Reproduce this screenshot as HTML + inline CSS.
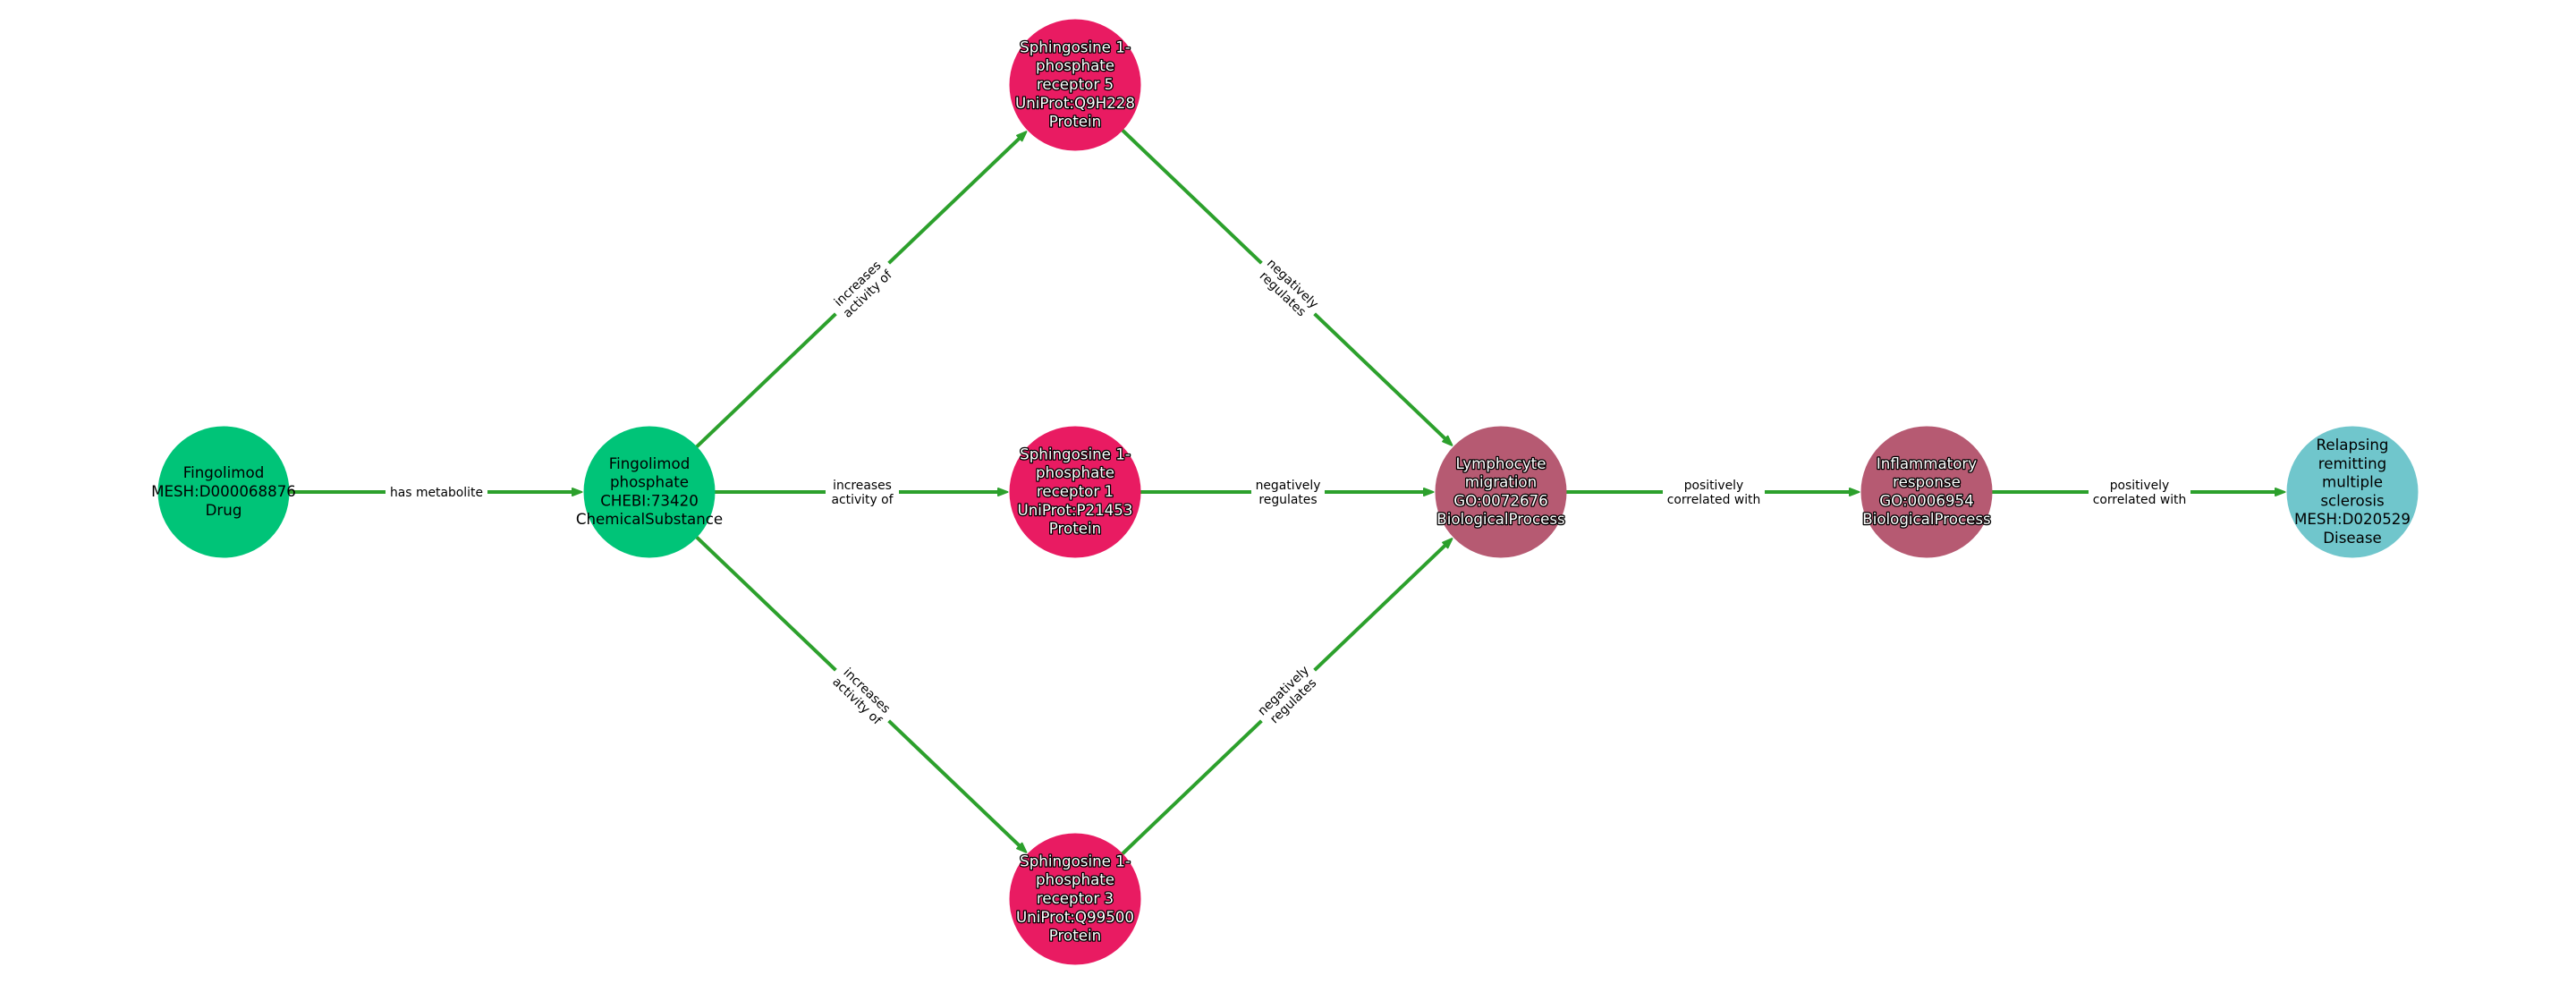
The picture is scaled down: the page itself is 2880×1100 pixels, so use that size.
<!DOCTYPE html>
<html>
<head>
<meta charset="utf-8">
<style>
html,body{margin:0;padding:0;background:#fff;width:2880px;height:1100px;overflow:hidden}
svg{display:block}
text{font-family:"DejaVu Sans",sans-serif;text-anchor:middle}
.n{font-size:16.67px;transform:translateY(-.7px)}
.d{fill:#000}
.w{fill:#fff;stroke:#000;stroke-width:2.6px;paint-order:stroke;stroke-linejoin:round}
.e{font-size:13.9px;fill:#000}
line{stroke:#2ca02c;stroke-width:4;marker-end:url(#a)}
</style>
</head>
<body>
<svg xmlns="http://www.w3.org/2000/svg" width="2880" height="1100" viewBox="0 0 2880 1100">
<defs>
<marker id="a" markerUnits="userSpaceOnUse" markerWidth="14" markerHeight="14" viewBox="0 0 14 14" refX="4" refY="7" orient="auto">
<path d="M1 3 L11.5 7 L1 11 Z" fill="#2ca02c" stroke="#2ca02c" stroke-width="2" stroke-linejoin="round"/>
</marker>
</defs>
<rect width="2880" height="1100" fill="#fff"/>

<line x1="250" y1="550" x2="643" y2="550"/>
<line x1="726" y1="550" x2="1119" y2="550"/>
<line x1="1202" y1="550" x2="1595" y2="550"/>
<line x1="1678" y1="550" x2="2071" y2="550"/>
<line x1="2154" y1="550" x2="2547" y2="550"/>
<line x1="726" y1="550" x2="1142" y2="152.4"/>
<line x1="726" y1="550" x2="1142" y2="947.6"/>
<line x1="1202" y1="95" x2="1618" y2="492.6"/>
<line x1="1202" y1="1005" x2="1618" y2="607.4"/>

<rect x="431" y="540" width="114" height="20" fill="#fff"/>
<text class="e" x="488" y="555">has metabolite</text>

<rect x="923" y="530" width="82" height="40" fill="#fff"/>
<text class="e"><tspan x="964" y="547">increases</tspan><tspan x="964" y="563">activity of</tspan></text>

<rect x="1399" y="530" width="82" height="40" fill="#fff"/>
<text class="e"><tspan x="1440" y="547">negatively</tspan><tspan x="1440" y="563">regulates</tspan></text>

<rect x="1859" y="530" width="114" height="40" fill="#fff"/>
<text class="e"><tspan x="1916" y="547">positively</tspan><tspan x="1916" y="563">correlated with</tspan></text>

<rect x="2335" y="530" width="114" height="40" fill="#fff"/>
<text class="e"><tspan x="2392" y="547">positively</tspan><tspan x="2392" y="563">correlated with</tspan></text>

<g transform="rotate(-43.7 964 322.5)">
<rect x="923" y="302.5" width="82" height="40" fill="#fff"/>
<text class="e"><tspan x="964" y="319.5">increases</tspan><tspan x="964" y="335.5">activity of</tspan></text>
</g>
<g transform="rotate(43.7 964 777.5)">
<rect x="923" y="757.5" width="82" height="40" fill="#fff"/>
<text class="e"><tspan x="964" y="774.5">increases</tspan><tspan x="964" y="790.5">activity of</tspan></text>
</g>
<g transform="rotate(43.7 1440 322.5)">
<rect x="1399" y="302.5" width="82" height="40" fill="#fff"/>
<text class="e"><tspan x="1440" y="319.5">negatively</tspan><tspan x="1440" y="335.5">regulates</tspan></text>
</g>
<g transform="rotate(-43.7 1440 777.5)">
<rect x="1399" y="757.5" width="82" height="40" fill="#fff"/>
<text class="e"><tspan x="1440" y="774.5">negatively</tspan><tspan x="1440" y="790.5">regulates</tspan></text>
</g>

<circle cx="250" cy="550" r="73.5" fill="#00c478"/>
<circle cx="726" cy="550" r="73.5" fill="#00c478"/>
<circle cx="1202" cy="95" r="73.5" fill="#e91b62"/>
<circle cx="1202" cy="550" r="73.5" fill="#e91b62"/>
<circle cx="1202" cy="1005" r="73.5" fill="#e91b62"/>
<circle cx="1678" cy="550" r="73.5" fill="#b65a72"/>
<circle cx="2154" cy="550" r="73.5" fill="#b65a72"/>
<circle cx="2630" cy="550" r="73.5" fill="#70c6cc"/>

<text class="n d"><tspan x="250" y="534.9">Fingolimod</tspan><tspan x="250" y="555.7">MESH:D000068876</tspan><tspan x="250" y="576.5">Drug</tspan></text>
<text class="n d"><tspan x="726" y="524.5">Fingolimod</tspan><tspan x="726" y="545.3">phosphate</tspan><tspan x="726" y="566.1">CHEBI:73420</tspan><tspan x="726" y="586.9">ChemicalSubstance</tspan></text>

<text class="n w"><tspan x="1202" y="59.1">Sphingosine 1-</tspan><tspan x="1202" y="79.9">phosphate</tspan><tspan x="1202" y="100.7">receptor 5</tspan><tspan x="1202" y="121.5">UniProt:Q9H228</tspan><tspan x="1202" y="142.3">Protein</tspan></text>
<text class="n w"><tspan x="1202" y="514.1">Sphingosine 1-</tspan><tspan x="1202" y="534.9">phosphate</tspan><tspan x="1202" y="555.7">receptor 1</tspan><tspan x="1202" y="576.5">UniProt:P21453</tspan><tspan x="1202" y="597.3">Protein</tspan></text>
<text class="n w"><tspan x="1202" y="969.1">Sphingosine 1-</tspan><tspan x="1202" y="989.9">phosphate</tspan><tspan x="1202" y="1010.7">receptor 3</tspan><tspan x="1202" y="1031.5">UniProt:Q99500</tspan><tspan x="1202" y="1052.3">Protein</tspan></text>

<text class="n w"><tspan x="1678" y="524.5">Lymphocyte</tspan><tspan x="1678" y="545.3">migration</tspan><tspan x="1678" y="566.1">GO:0072676</tspan><tspan x="1678" y="586.9">BiologicalProcess</tspan></text>
<text class="n w"><tspan x="2154" y="524.5">Inflammatory</tspan><tspan x="2154" y="545.3">response</tspan><tspan x="2154" y="566.1">GO:0006954</tspan><tspan x="2154" y="586.9">BiologicalProcess</tspan></text>

<text class="n d"><tspan x="2630" y="503.7">Relapsing</tspan><tspan x="2630" y="524.5">remitting</tspan><tspan x="2630" y="545.3">multiple</tspan><tspan x="2630" y="566.1">sclerosis</tspan><tspan x="2630" y="586.9">MESH:D020529</tspan><tspan x="2630" y="607.7">Disease</tspan></text>
</svg>
</body>
</html>
